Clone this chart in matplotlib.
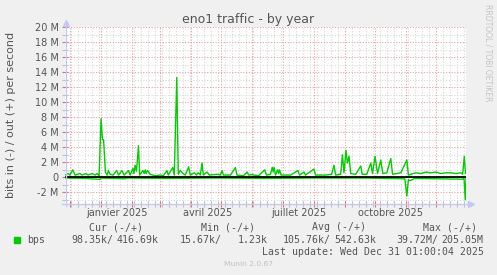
import pandas as pd
import matplotlib
matplotlib.use("Agg")
from matplotlib import pyplot as plt
import matplotlib.dates as mdates
from matplotlib.ticker import MultipleLocator, FuncFormatter

# graph spans 400 days ending Wed Dec 31 2025 01:00
end = pd.Timestamp("2025-12-31 01:00")
start = end - pd.Timedelta(days=400)

# out (+) traffic, Mbit/s, keypoints: day offset from start, value
out_days = [0, 3, 5, 7.7, 10, 15, 17, 21, 23, 27, 30, 32, 34, 36, 37.3, 38.5,
            40.3, 42, 43.3, 45, 48, 51.7, 53.5, 56.7, 59, 63.3, 65, 67.7, 68.7,
            70, 71.3, 73.3, 74.5, 77.7, 79, 80, 81, 82.3, 85, 90, 95, 98, 101.7,
            103, 107.5, 109, 111.5, 113, 115, 117.7, 120, 123.3, 125, 129, 131,
            133, 135, 136.7, 138, 141.7, 144, 151.7, 155, 156.7, 158, 165, 170,
            171.5, 178, 181.7, 183.3, 186.7, 193, 199.3, 201, 205, 206.7, 207.7,
            208.5, 210, 212, 213, 214, 215.5, 225, 232.3, 234, 238.3, 240,
            248.3, 250, 260, 266, 268.3, 270, 275, 276.7, 278.3, 280.3, 281.7,
            283.3, 285, 290, 295, 296.5, 301, 305, 306.7, 309.3, 311.7, 315,
            317, 321, 325, 326.7, 331, 335, 341, 342.5, 345, 350, 355, 360, 365,
            370, 375, 380, 385, 390, 395, 396.7, 398.3, 399.5, 400]
out_vals = [0.3, 0.5, 0.3, 1.0, 0.3, 0.5, 0.3, 0.5, 0.3, 0.5, 0.3, 0.5, 0.2, 7.8,
            5.1, 5.0, 0.7, 0.3, 0.9, 0.4, 0.3, 0.9, 0.3, 0.9, 0.3, 0.9, 0.3,
            1.2, 0.5, 1.6, 0.8, 4.2, 0.3, 0.9, 0.5, 1.0, 0.5, 0.9, 0.4, 0.2,
            0.3, 0.2, 0.9, 0.3, 1.3, 0.3, 13.3, 0.4, 0.9, 0.5, 0.3, 1.4, 0.3,
            0.6, 0.3, 0.6, 0.3, 1.9, 0.3, 0.7, 0.3, 0.4, 0.3, 0.9, 0.3, 0.3,
            1.3, 0.3, 0.2, 0.7, 0.3, 0.35, 0.2, 1.0, 0.3, 0.4, 1.33, 0.7, 1.33,
            0.3, 1.0, 0.5, 1.0, 0.3, 0.3, 0.9, 0.3, 0.7, 0.3, 1.1, 0.3, 0.3,
            0.4, 1.6, 0.3, 0.4, 3.0, 0.6, 3.6, 1.9, 2.8, 0.5, 0.4, 1.5, 0.4,
            0.4, 1.9, 0.5, 2.8, 0.5, 2.3, 0.5, 0.6, 2.5, 0.4, 0.5, 0.6, 2.3,
            0.3, 0.4, 0.6, 0.5, 0.7, 0.6, 0.7, 0.5, 0.6, 0.6, 0.5, 0.6, 0.4,
            2.8, 0.5, 0.6]

# in (-) traffic, drawn negative
in_days = [0, 20, 35, 36, 60, 61, 100, 150, 200, 250, 300, 339, 341, 342.5,
           344, 346.7, 348, 396.7, 398, 399.3, 400]
in_vals = [-0.1, -0.15, -0.27, -0.1, -0.2, -0.1, -0.15, -0.1, -0.15, -0.1, -0.1,
           -0.2, -2.5, -0.3, -0.45, -0.3, -0.15, -0.25, -0.1, -3.0, -0.1]

month_labels = ["janvier 2025", "avril 2025", "juillet 2025", "octobre 2025"]
label_dates = ["2025-01-17", "2025-04-17", "2025-07-17", "2025-10-17"]

legend_head = ["Cur (-/+)", "Min (-/+)", "Avg (-/+)", "Max (-/+)"]
legend_in = ["98.35k/", "15.67k/", "105.76k/", "39.72M/"]
legend_out = ["416.69k", "1.23k", "542.63k", "205.05M"]

W, H = 497, 275
TXT = "#555555"
GREEN = "#00cc00"
AXC = "#c3c8f4"

fig = plt.figure(figsize=(W / 100, H / 100), dpi=100, facecolor="#f0f0f0")
# plot area in pixels: x 65..466, y 27..204
L, R, T, B = 65, 466, 27.3, 204
ax = fig.add_axes([L / W, 1 - B / H, (R - L) / W, (B - T) / H])
ax.set_facecolor("white")

to_dates = lambda d: [start + pd.Timedelta(days=v) for v in d]
ax.plot(to_dates(out_days), out_vals, color=GREEN, lw=1, zorder=3)
ax.plot(to_dates(in_days), in_vals, color=GREEN, lw=1, zorder=3)
ax.axhline(0, color="black", lw=1.3, zorder=4)

ax.set_xlim(start, end)
ax.set_ylim(-3.56, 20.0)

ax.xaxis.set_major_locator(mdates.MonthLocator())
ax.xaxis.set_minor_locator(mdates.WeekdayLocator(byweekday=mdates.MO))
ax.yaxis.set_major_locator(MultipleLocator(2))
ax.yaxis.set_minor_locator(MultipleLocator(1))
ax.yaxis.set_major_formatter(FuncFormatter(lambda v, p: "0" if abs(v) < 1e-9 else "%d M" % round(v)))

ax.grid(which="major", color="#e8a0a0", lw=0.8, ls=(0, (1, 1.5)), zorder=1)
ax.grid(which="minor", color="#d8d8d8", lw=0.8, ls=(0, (1, 1.5)), zorder=0)

ax.tick_params(axis="x", which="major", direction="inout", length=5, width=0.8,
               color="#e07070", labelbottom=False)
ax.tick_params(axis="x", which="minor", direction="inout", length=4, width=0.8,
               color="#c0c0c0")
ax.tick_params(axis="y", which="major", direction="inout", length=5, width=0.8,
               color="#e07070", labelsize=7, labelcolor=TXT, pad=2)
ax.tick_params(axis="y", which="minor", direction="inout", length=4, width=0.8,
               color="#c0c0c0")

for s in ax.spines.values():
    s.set_visible(False)

# axis lines with arrowheads
ax.plot([-0.008, 1.01], [0, 0], color=AXC, lw=1, transform=ax.transAxes, clip_on=False, zorder=5)
ax.plot([1.012], [0], marker=">", ms=5, color=AXC, transform=ax.transAxes, clip_on=False, zorder=5)
ax.plot([0.003, 0.003], [-0.01, 1.02], color=AXC, lw=1, transform=ax.transAxes, clip_on=False, zorder=5)
ax.plot([0.003], [1.025], marker="^", ms=5, color=AXC, transform=ax.transAxes, clip_on=False, zorder=5)

for lab, d in zip(month_labels, label_dates):
    ax.text(pd.Timestamp(d), -0.05, lab, transform=ax.get_xaxis_transform(),
            ha="center", va="center", fontsize=7, color=TXT)

fig.text(0.5, 1 - 20 / H, "eno1 traffic - by year", ha="center", va="center",
         fontsize=9, color=TXT)
fig.text(11.5 / W, 1 - 115 / H, "bits in (-) / out (+) per second", rotation=90,
         ha="center", va="center", fontsize=8, color=TXT)
fig.text(488 / W, 1 - 53 / H, "RRDTOOL / TOBI OETIKER", rotation=270,
         ha="center", va="center", fontsize=5.5, color="#c4c4c4")

mono = dict(family="DejaVu Sans Mono", fontsize=7.1, color=TXT, va="center")
for txt, x in zip(legend_head, [89, 201, 312, 423]):
    fig.text(x / W, 1 - 227 / H, txt, ha="left", **mono)
fig.patches.append(plt.Rectangle((14 / W, 1 - 243 / H), 6 / W, 6 / H,
                                 transform=fig.transFigure, color=GREEN))
fig.text(27 / W, 1 - 240 / H, "bps", ha="left", **mono)
for txt, x in zip(legend_in, [71, 179.5, 282.3, 395.8]):
    fig.text(x / W, 1 - 240 / H, txt, ha="left", **mono)
for txt, x in zip(legend_out, [158.5, 267.5, 376, 483.5]):
    fig.text(x / W, 1 - 240 / H, txt, ha="right", **mono)
fig.text(483.5 / W, 1 - 251.7 / H, "Last update: Wed Dec 31 01:00:04 2025",
         ha="right", **mono)
fig.text(248 / W, 1 - 264 / H, "Munin 2.0.67", ha="center", va="center",
         fontsize=5.4, color="#c0c0c0")

fig.savefig("out.png", dpi=100, facecolor=fig.get_facecolor())
